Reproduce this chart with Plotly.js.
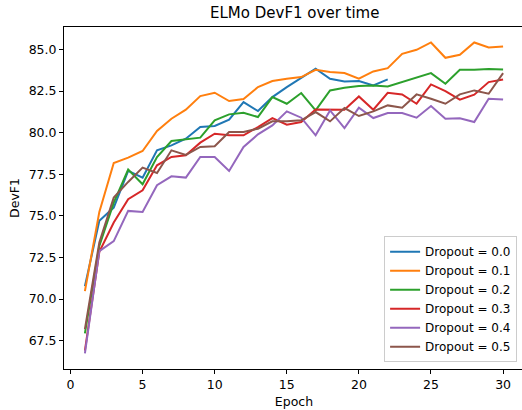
<!DOCTYPE html>
<html>
<head>
<meta charset="utf-8">
<script src="https://cdn.plot.ly/plotly-3.0.1.min.js"></script>
<style>
html, body { margin: 0; padding: 0; overflow: hidden; background: #fff; }
#chart { width: 524px; height: 410px; }
</style>
</head>
<body>
<div id="chart"></div>
<script>
const epochs = Array.from({length: 30}, (_, i) => i + 1);
const seriesNames = ["Dropout = 0.0", "Dropout = 0.1", "Dropout = 0.2", "Dropout = 0.3", "Dropout = 0.4", "Dropout = 0.5"];
const dropout00 = [70.78, 74.7, 75.5, 77.7, 77.3, 78.94, 79.24, 79.64, 80.34, 80.4, 80.78, 81.84, 81.3, 82.14, 82.74, 83.3, 83.84, 83.24, 83.08, 83.1, 82.84, 83.2];
const dropout01 = [70.48, 75.24, 78.18, 78.5, 78.9, 80.1, 80.84, 81.38, 82.2, 82.4, 81.9, 82.02, 82.74, 83.1, 83.24, 83.34, 83.78, 83.64, 83.58, 83.24, 83.68, 83.88, 84.74, 84.98, 85.42, 84.5, 84.68, 85.42, 85.12, 85.18];
const dropout02 = [67.94, 73.2, 75.8, 77.78, 76.9, 78.54, 79.5, 79.6, 79.7, 80.74, 81.1, 81.2, 80.94, 82.14, 81.74, 82.38, 81.34, 82.54, 82.7, 82.8, 82.84, 82.78, 83.04, 83.28, 83.58, 82.94, 83.78, 83.78, 83.82, 83.8];
const dropout03 = [66.9, 72.84, 74.6, 76.0, 76.54, 78.04, 78.54, 78.64, 79.4, 79.94, 79.84, 79.84, 80.34, 80.88, 80.48, 80.64, 81.4, 81.4, 81.38, 82.18, 81.38, 82.4, 82.3, 81.74, 82.9, 82.5, 81.98, 82.28, 83.04, 83.2];
const dropout04 = [66.74, 72.88, 73.48, 75.3, 75.24, 76.84, 77.38, 77.3, 78.54, 78.54, 77.7, 79.14, 79.9, 80.44, 81.28, 80.9, 79.84, 81.34, 80.28, 81.5, 80.88, 81.18, 81.18, 80.9, 81.6, 80.84, 80.86, 80.64, 82.04, 82.0];
const dropout05 = [68.2, 73.4, 76.1, 77.04, 77.9, 77.58, 78.94, 78.66, 79.14, 79.18, 80.04, 80.04, 80.24, 80.68, 80.68, 80.74, 81.24, 80.68, 81.48, 81.0, 81.28, 81.64, 81.5, 82.3, 82.04, 81.74, 82.3, 82.54, 82.34, 83.58];
const yTickVals = [67.5, 70.0, 72.5, 75.0, 77.5, 80.0, 82.5, 85.0];
const xTickVals = [0, 5, 10, 15, 20, 25, 30];

const allSeries = [dropout00, dropout01, dropout02, dropout03, dropout04, dropout05];
const colors = ["#1f77b4", "#ff7f0e", "#2ca02c", "#d62728", "#9467bd", "#8c564b"];

const traces = allSeries.map((vals, i) => ({
  x: epochs.slice(0, vals.length),
  y: vals,
  type: "scatter",
  mode: "lines",
  name: seriesNames[i],
  line: {color: colors[i], width: 2}
}));

const font = {family: "DejaVu Sans", size: 12.5, color: "#000"};
const layout = {
  width: 524, height: 410,
  margin: {l: 64, r: 0, t: 27, b: 41},
  paper_bgcolor: "#fff", plot_bgcolor: "#fff",
  font: font,
  title: {text: "ELMo DevF1 over time", font: {family: "DejaVu Sans", size: 15, color: "#000"}, x: 0.5625, xanchor: "center", y: 0.968, yanchor: "middle"},
  showlegend: true,
  legend: {
    x: 0.985, y: 0.02, xanchor: "right", yanchor: "bottom",
    bgcolor: "rgba(255,255,255,0.8)", bordercolor: "#cccccc", borderwidth: 1,
    font: {family: "DejaVu Sans", size: 12, color: "#000"},
    tracegroupgap: 0
  },
  xaxis: {
    range: [-0.45, 31.45],
    tickvals: xTickVals,
    ticks: "outside", ticklen: 4, tickwidth: 1, tickcolor: "#000",
    showline: true, linecolor: "#000", linewidth: 1, mirror: true,
    showgrid: false, zeroline: false,
    tickfont: font,
    title: {text: "Epoch", font: font, standoff: 6}
  },
  yaxis: {
    range: [65.8, 86.35],
    tickvals: yTickVals,
    tickformat: ".1f",
    ticks: "outside", ticklen: 4, tickwidth: 1, tickcolor: "#000",
    showline: true, linecolor: "#000", linewidth: 1, mirror: true,
    showgrid: false, zeroline: false,
    tickfont: font,
    title: {text: "DevF1", font: font, standoff: 6}
  }
};

Plotly.newPlot("chart", traces, layout, {staticPlot: true, displayModeBar: false});
</script>
</body>
</html>
